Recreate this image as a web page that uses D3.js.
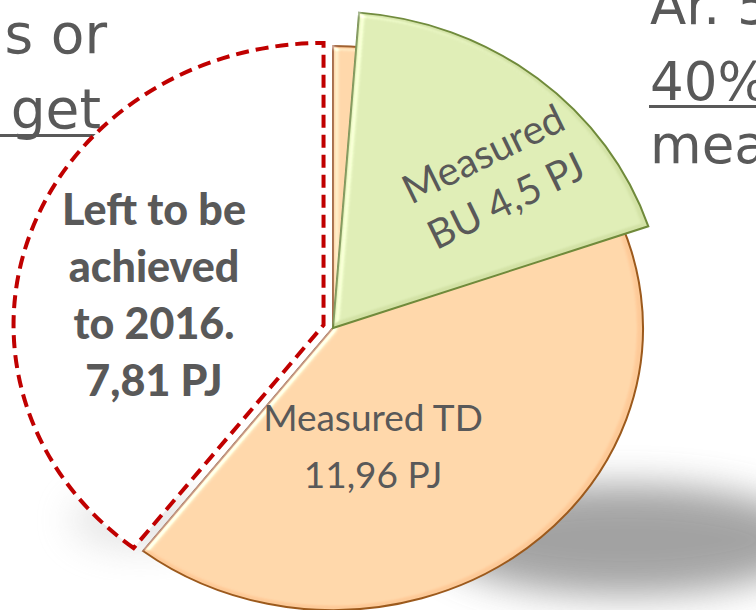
<!DOCTYPE html>
<html>
<head>
<meta charset="utf-8">
<script src="https://cdn.jsdelivr.net/npm/d3@7"></script>
<style>
  body { margin: 0; background: #fff; }
  svg { display: block; }
</style>
</head>
<body>
<div id="GraphHolder"></div>
<script>
// chart values
var baseNames = ["Measured TD", "Left to be achieved to 2016."];
var baseValues = [11.96, 7.81];
var overlayNames = ["Measured BU"];
var overlayValues = [4.5];

// label lines for each slice
var tdLines = ["Measured TD", "11,96 PJ"];
var leftLines = ["Left to be", "achieved", "to 2016.", "7,81 PJ"];
var buLines = ["Measured", "BU 4,5 PJ"];

// visible bits of the slide text around the chart
var slideLeft = ["s or", "get"];
var slideRight = ["Ar. 5", "40%", "mea"];

var width = 756,
    height = 610,
    cx = 333,
    cy = 328;

var svg = d3.select("#GraphHolder").append("svg")
    .attr("width", width)
    .attr("height", height);

var defs = svg.append("defs");

// soft shadow
defs.append("filter")
    .attr("id", "blur")
    .attr("x", "-50%").attr("y", "-50%")
    .attr("width", "200%").attr("height", "200%")
    .append("feGaussianBlur")
    .attr("stdDeviation", 18);

// bevel look for the slices
var bevel = defs.append("filter")
    .attr("id", "bevel")
    .attr("x", "-10%").attr("y", "-10%")
    .attr("width", "120%").attr("height", "120%");
bevel.append("feGaussianBlur")
    .attr("in", "SourceAlpha")
    .attr("stdDeviation", 3)
    .attr("result", "blur");
bevel.append("feSpecularLighting")
    .attr("in", "blur")
    .attr("surfaceScale", 4)
    .attr("specularConstant", 0.7)
    .attr("specularExponent", 18)
    .attr("lighting-color", "#ffffff")
    .attr("result", "spec")
    .append("feDistantLight")
    .attr("azimuth", 225)
    .attr("elevation", 40);
bevel.append("feComposite")
    .attr("in", "spec")
    .attr("in2", "SourceAlpha")
    .attr("operator", "in")
    .attr("result", "specIn");
bevel.append("feComposite")
    .attr("in", "SourceGraphic")
    .attr("in2", "specIn")
    .attr("operator", "arithmetic")
    .attr("k1", 0).attr("k2", 1).attr("k3", 0.8).attr("k4", 0);

// slide text (cut off by the crop)
var slideFont = "'DejaVu Sans', Verdana, sans-serif";
svg.append("text")
    .attr("x", 107).attr("y", 53)
    .attr("text-anchor", "end")
    .style("font-family", slideFont)
    .style("font-size", "55px")
    .style("fill", "#595959")
    .text(slideLeft[0]);
svg.append("text")
    .attr("x", 101).attr("y", 128)
    .attr("text-anchor", "end")
    .style("font-family", slideFont)
    .style("font-size", "55px")
    .style("fill", "#595959")
    .text(slideLeft[1]);
svg.append("rect")
    .attr("x", 0).attr("y", 134)
    .attr("width", 100).attr("height", 3)
    .style("fill", "#595959");

var rightY = [24, 100, 163];
slideRight.forEach(function(t, i) {
    svg.append("text")
        .attr("x", 650).attr("y", rightY[i])
        .style("font-family", slideFont)
        .style("font-size", "53px")
        .style("fill", "#595959")
        .text(t);
});
svg.append("rect")
    .attr("x", 649).attr("y", 105)
    .attr("width", 107).attr("height", 3)
    .style("fill", "#595959");

// shadow under the pie
svg.append("ellipse")
    .attr("cx", 625).attr("cy", 540)
    .attr("rx", 190).attr("ry", 55)
    .style("fill", "#8c8c8c")
    .style("opacity", 0.8)
    .attr("filter", "url(#blur)");
svg.append("ellipse")
    .attr("cx", 140).attr("cy", 520)
    .attr("rx", 70).attr("ry", 30)
    .style("fill", "#bbbbbb")
    .style("opacity", 0.35)
    .attr("filter", "url(#blur)");

// base pie: TD and what is left
var pie = d3.pie().sort(null)(baseValues);
var R = 310;
var arc = d3.arc().innerRadius(0).outerRadius(R);

var pieG = svg.append("g")
    .attr("transform", "translate(" + cx + "," + cy + ") scale(1,0.91)");

// exploded "left" slice, white with red dashes
var leftSlice = pie[1];
var mid = (leftSlice.startAngle + leftSlice.endAngle) / 2;
var off = 10;
pieG.append("path")
    .attr("d", arc(leftSlice))
    .attr("transform", "translate(" + (Math.sin(mid) * off) + "," + (-Math.cos(mid) * off) + ")")
    .style("fill", "#ffffff")
    .style("stroke", "#C00000")
    .style("stroke-width", 4)
    .style("stroke-dasharray", "13,7")
    .attr("vector-effect", "non-scaling-stroke");

// TD slice
pieG.append("path")
    .attr("d", arc(pie[0]))
    .style("fill", "#FDCA98")
    .style("stroke", "#9c5a1e")
    .style("stroke-width", 2)
    .attr("vector-effect", "non-scaling-stroke")
    .attr("filter", "url(#bevel)");

// BU slice, drawn over TD on the same angle scale as all three values
var total = d3.sum(baseValues) + d3.sum(overlayValues);
var angle = d3.scaleLinear().domain([0, total]).range([0, 2 * Math.PI]);
var buStart = 4.5 * Math.PI / 180;
var buG = svg.append("g")
    .attr("transform", "translate(" + cx + "," + cy + ") scale(1,0.95)");
buG.append("path")
    .attr("d", d3.arc().innerRadius(0).outerRadius(333)({
        startAngle: buStart,
        endAngle: buStart + angle(overlayValues[0])
    }))
    .style("fill", "#D3E2A6")
    .style("stroke", "#6f8a3a")
    .style("stroke-width", 2)
    .attr("vector-effect", "non-scaling-stroke")
    .attr("filter", "url(#bevel)");

// labels
var labelFont = "Lato, 'Open Sans', sans-serif";

var tdText = svg.append("text")
    .attr("text-anchor", "middle")
    .style("font-family", labelFont)
    .style("font-size", "37px")
    .style("fill", "#595959");
tdLines.forEach(function(t, i) {
    tdText.append("tspan").attr("x", 373).attr("y", 431 + i * 57).text(t);
});

var leftText = svg.append("text")
    .attr("text-anchor", "middle")
    .style("font-family", labelFont)
    .style("font-size", "43px")
    .style("font-weight", "900")
    .style("fill", "#595959");
leftLines.forEach(function(t, i) {
    leftText.append("tspan").attr("x", 154).attr("y", 225 + i * 57).text(t);
});

var buText = svg.append("text")
    .attr("transform", "translate(492,172) rotate(-26)")
    .attr("text-anchor", "middle")
    .style("font-family", labelFont)
    .style("font-size", "40px")
    .style("fill", "#595959");
buLines.forEach(function(t, i) {
    buText.append("tspan").attr("x", 0).attr("y", -6 + i * 52).text(t);
});
</script>
</body>
</html>
